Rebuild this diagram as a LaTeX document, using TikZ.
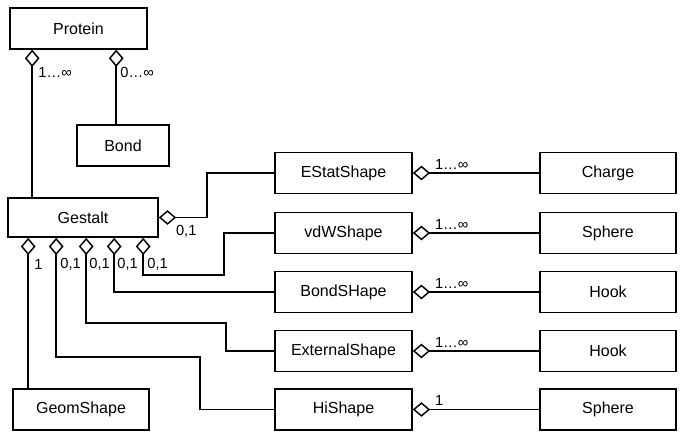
\documentclass[tikz,border=0pt]{standalone}
\usepackage{fontspec}
\setmainfont{Liberation Sans}
\usetikzlibrary{arrows.meta,calc}
\tikzset{
  classbox/.style={
    draw=black,
    line width=1.2pt,
    inner sep=0pt,
    minimum height=30.5pt,
    font=\fontsize{12}{14}\selectfont
  },
  aggregation/.style={
    draw=black,
    line width=1.2pt,
    {Diamond[open,length=13pt,width=11pt,line width=1.1pt]}-
  },
  multlabel/.style={
    font=\fontsize{11}{13}\selectfont,
    inner sep=0pt
  }
}
\begin{document}
\begin{tikzpicture}[x=0.75pt,y=-0.75pt]
  \useasboundingbox (0,0) rectangle (685,440);

  % Protein and its parts on the left.
  \node[classbox,minimum width=102.75pt] (protein) at (78.5,28.5) {Protein};
  \node[classbox,minimum width=69pt] (bond) at (123,145.5) {Bond};
  \node[classbox,minimum width=112.5pt,minimum height=29.25pt] (gestalt) at (83,217.5) {Gestalt};
  \node[classbox,minimum width=102pt] (geomshape) at (81,409.5) {GeomShape};

  % Shape classes of the Gestalt, one row each.
  \node[classbox,minimum width=102.75pt] (estatshape) at (343.5,173) {EStatShape};
  \node[classbox,minimum width=102.75pt] (vdwshape) at (343.5,233) {vdWShape};
  \node[classbox,minimum width=102.75pt] (bondshape) at (343.5,292) {BondSHape};
  \node[classbox,minimum width=102.75pt] (externalshape) at (343.5,351) {ExternalShape};
  \node[classbox,minimum width=102.75pt] (hishape) at (343.5,409.5) {HiShape};

  % Parts of the shapes in the right column.
  \node[classbox,minimum width=102pt] (charge) at (608,173) {Charge};
  \node[classbox,minimum width=102pt] (spherea) at (608,233) {Sphere};
  \node[classbox,minimum width=102pt] (hooka) at (608,292) {Hook};
  \node[classbox,minimum width=102pt] (hookb) at (608,351) {Hook};
  \node[classbox,minimum width=102pt] (sphereb) at (608,409.5) {Sphere};

  % Aggregations from Protein.
  \coordinate (p1) at ($(protein.south west)+(23,0)$);
  \coordinate (p2) at ($(protein.south west)+(107,0)$);
  \draw[aggregation] (p1) -- (p1 |- gestalt.north);
  \draw[aggregation] (p2) -- (p2 |- bond.north);
  \node[multlabel,anchor=west] at ($(p1)+(6,23)$) {1…∞};
  \node[multlabel,anchor=west] at ($(p2)+(4,23)$) {0…∞};

  % Aggregations from Gestalt to its shapes.
  \coordinate (g1) at ($(gestalt.south west)+(21,0)$);
  \coordinate (g2) at ($(gestalt.south west)+(49,0)$);
  \coordinate (g3) at ($(gestalt.south west)+(79,0)$);
  \coordinate (g4) at ($(gestalt.south west)+(107,0)$);
  \coordinate (g5) at ($(gestalt.south west)+(136,0)$);
  \draw[aggregation] (g1) -- (g1 |- geomshape.north);
  \draw[aggregation] (g2) |- (200,357) |- (hishape);
  \draw[aggregation] (g3) |- (226,323) |- (externalshape);
  \draw[aggregation] (g4) |- (bondshape);
  \draw[aggregation] (g5) |- (224,275) |- (vdwshape);
  \draw[aggregation] (gestalt.east) -| (207,173) -- (estatshape);
  \node[multlabel,anchor=west] at ($(g1)+(6,27)$) {1};
  \node[multlabel,anchor=west] at ($(g2)+(4,27)$) {0,1};
  \node[multlabel,anchor=west] at ($(g3)+(3,27)$) {0,1};
  \node[multlabel,anchor=west] at ($(g4)+(3,27)$) {0,1};
  \node[multlabel,anchor=west] at ($(g5)+(4,27)$) {0,1};
  \node[multlabel,anchor=west] at ($(gestalt.east)+(17,13.5)$) {0,1};

  % Aggregations from the shapes to their parts.
  \draw[aggregation] (estatshape) -- (charge);
  \draw[aggregation] (vdwshape) -- (spherea);
  \draw[aggregation] (bondshape) -- (hooka);
  \draw[aggregation] (externalshape) -- (hookb);
  \draw[aggregation] (hishape) -- (sphereb);
  \node[multlabel,anchor=west] at ($(estatshape.east)+(22,-9)$) {1…∞};
  \node[multlabel,anchor=west] at ($(vdwshape.east)+(22,-9)$) {1…∞};
  \node[multlabel,anchor=west] at ($(bondshape.east)+(22,-9)$) {1…∞};
  \node[multlabel,anchor=west] at ($(externalshape.east)+(22,-9)$) {1…∞};
  \node[multlabel,anchor=west] at ($(hishape.east)+(22,-9)$) {1};

\end{tikzpicture}
\end{document}
